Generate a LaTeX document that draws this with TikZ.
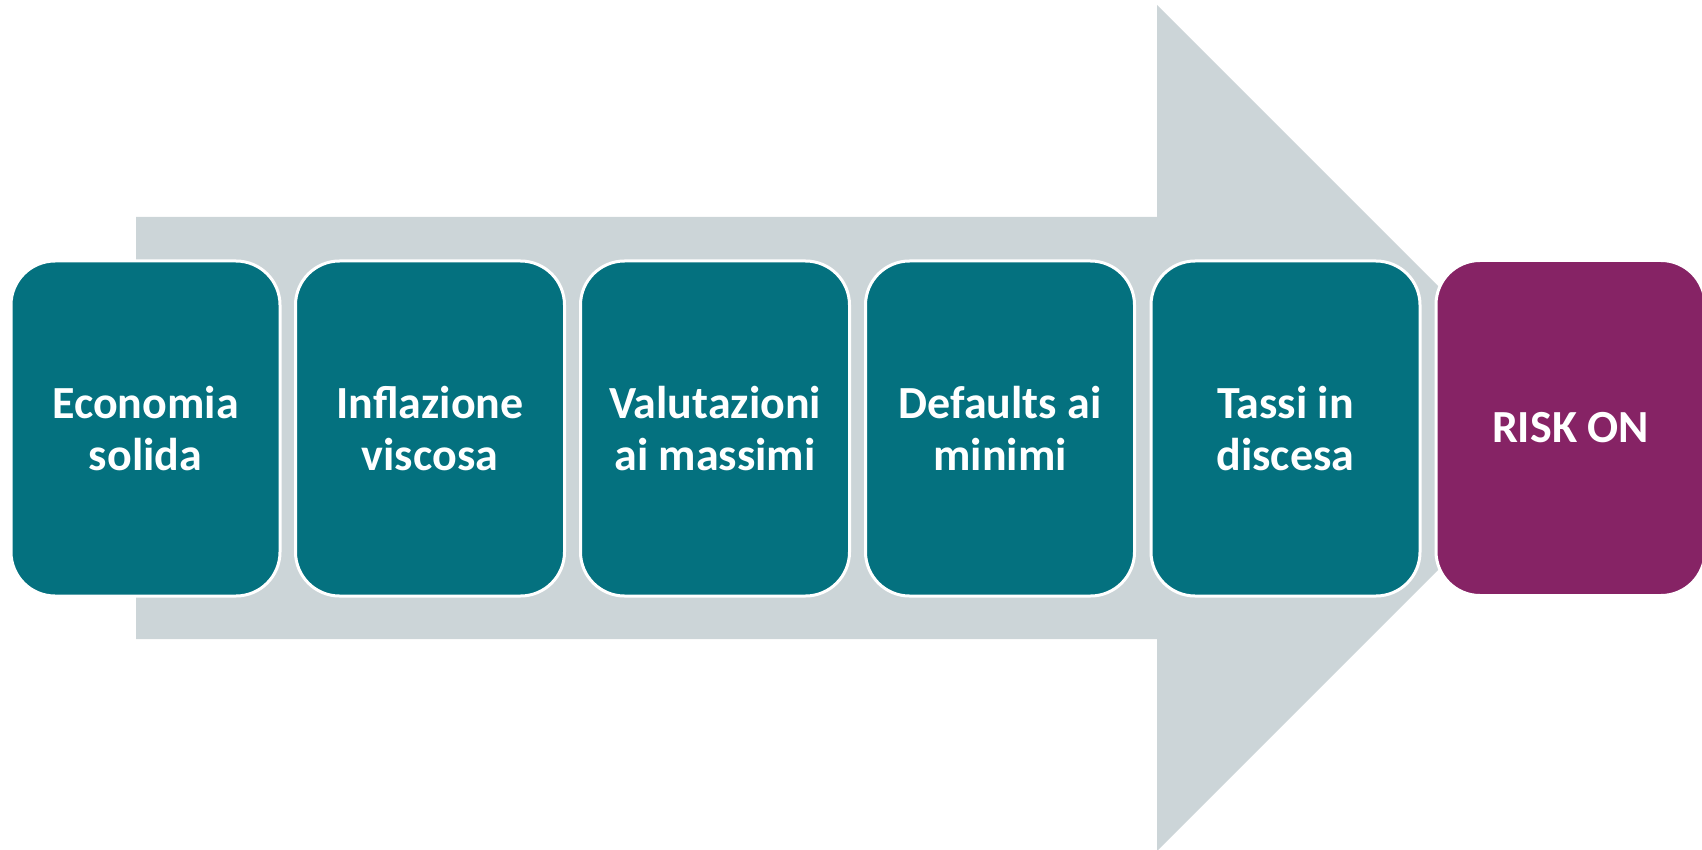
\documentclass[tikz,border=0pt]{standalone}
\usepackage{fontspec}
\setmainfont{Carlito}
\definecolor{teal1}{HTML}{04717F}
\definecolor{purp}{HTML}{862365}
\definecolor{band}{HTML}{CCD5D8}
\tikzset{
  stepbox/.style={draw=white, line width=3pt, fill=teal1, rounded corners=44pt,
    minimum width=269pt, minimum height=335pt, inner sep=0pt,
    text=white, align=center, font=\fontsize{46}{52}\selectfont\bfseries},
  endbox/.style={stepbox, fill=purp}
}
\begin{document}
\begin{tikzpicture}[x=1pt,y=-1pt]
\useasboundingbox (0,0) rectangle (1702,850);
\clip (0,0) rectangle (1702,850);
\fill[band] (136,217) -- (1157,217) -- (1157,5) -- (1580,428) -- (1157,851) -- (1157,639) -- (136,639) -- cycle;
\node[stepbox] (b1) at (145.5,428.5) {Economia\\solida};
\node[stepbox] (b2) at (430,428.5) {Inflazione\\viscosa};
\node[stepbox] (b3) at (715,428.5) {Valutazioni\\ai massimi};
\node[stepbox] (b4) at (1000,428.5) {Defaults ai\\minimi};
\node[stepbox] (b5) at (1285.5,428.5) {Tassi in\\discesa};
\node[endbox] (b6) at (1570.5,428) {RISK ON};
\end{tikzpicture}
\end{document}
